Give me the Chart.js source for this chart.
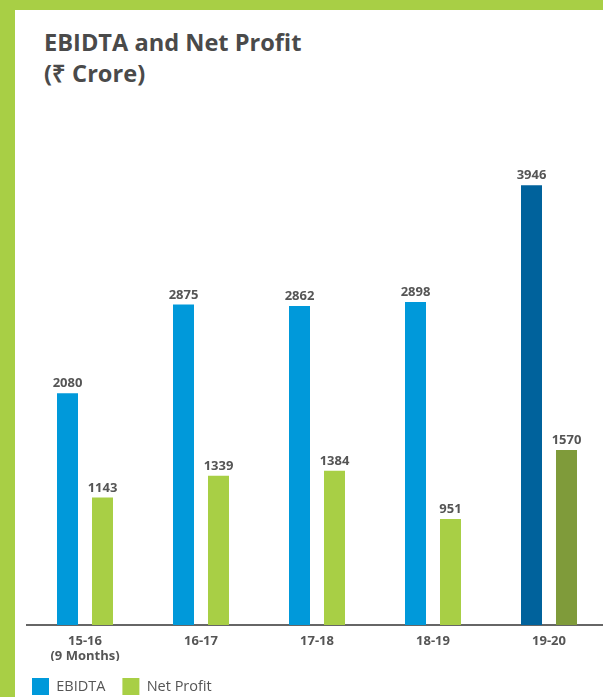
<!DOCTYPE html>
<html>
<head>
<meta charset="utf-8">
<script src="https://cdn.jsdelivr.net/npm/chart.js@4.4.1/dist/chart.umd.min.js"></script>
<style>
  html, body { margin: 0; padding: 0; overflow: hidden; width: 603px; height: 697px; background: #a8cf45; }
  #panel { position: absolute; left: 15px; top: 10px; width: 588px; height: 687px; background: #ffffff; }
  #title { position: absolute; left: 44px; top: 27px; font-family: 'Open Sans', sans-serif; font-weight: 700; font-size: 23.6px; line-height: 31px; color: #4a4a4a; white-space: nowrap; }
  #wrap { position: absolute; left: 15px; top: 100px; width: 592px; height: 605px; }
</style>
</head>
<body>
<div id="panel"></div>
<div id="title">EBIDTA and Net Profit<br>(₹ Crore)</div>
<div id="wrap"><canvas id="c" width="592" height="605"></canvas></div>
<script>
const categories = [['15-16', '(9 Months)'], '16-17', '17-18', '18-19', '19-20'];
const ebidta = [2080, 2875, 2862, 2898, 3946];
const netProfit = [1143, 1339, 1384, 951, 1570];
const seriesNames = ['EBIDTA', 'Net Profit'];

const FONT = "'Open Sans', sans-serif";
const LABEL_COLOR = '#555555';

const valueLabels = {
  id: 'valueLabels',
  afterDatasetsDraw(chart) {
    const ctx = chart.ctx;
    ctx.save();
    ctx.font = `bold 13px ${FONT}`;
    ctx.fillStyle = LABEL_COLOR;
    ctx.textAlign = 'center';
    ctx.textBaseline = 'alphabetic';
    chart.data.datasets.forEach((ds, di) => {
      const meta = chart.getDatasetMeta(di);
      meta.data.forEach((el, i) => {
        ctx.fillText(String(ds.data[i]), el.x, el.y - 6);
      });
    });
    ctx.restore();
  }
};

new Chart(document.getElementById('c'), {
  type: 'bar',
  data: {
    labels: categories,
    datasets: [
      {
        label: seriesNames[0],
        data: ebidta,
        backgroundColor: (c) => (c.dataIndex === 4 ? '#00629c' : '#0099da'),
        categoryPercentage: 0.6034,
        barPercentage: 0.6
      },
      {
        label: seriesNames[1],
        data: netProfit,
        backgroundColor: (c) => (c.dataIndex === 4 ? '#7f9b3a' : '#a8cf45'),
        categoryPercentage: 0.6034,
        barPercentage: 0.6
      }
    ]
  },
  options: {
    responsive: false,
    animation: false,
    events: [],
    layout: { padding: 0 },
    plugins: {
      tooltip: { enabled: false },
      legend: {
        position: 'bottom',
        align: 'start',
        labels: {
          boxWidth: 17,
          boxHeight: 17,
          padding: 17,
          color: LABEL_COLOR,
          font: { family: FONT, size: 14.5, weight: 'normal' }
        }
      }
    },
    scales: {
      x: {
        grid: { display: false, drawTicks: false },
        border: { display: true, color: '#666666', width: 2 },
        ticks: {
          color: LABEL_COLOR,
          padding: 8,
          maxRotation: 0,
          autoSkip: false,
          font: { family: FONT, size: 13, weight: 'bold', lineHeight: 1.2 }
        },
        afterFit: (s) => { s.height = 36; }
      },
      y: {
        min: 0,
        max: 4710,
        grid: { display: false, drawTicks: false },
        border: { display: false },
        ticks: { display: false },
        afterFit: (s) => { s.width = 12; }
      }
    }
  },
  plugins: [valueLabels]
});
</script>
</body>
</html>
